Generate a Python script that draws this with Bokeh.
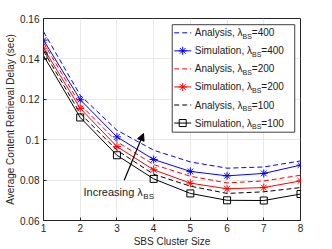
from bokeh.plotting import figure
from bokeh.models import Range1d, FixedTicker, Arrow, NormalHead
from bokeh.core.properties import value
from bokeh.embed import file_html
from bokeh.resources import INLINE

# ---------------- data ----------------
cluster_size = [1, 2, 3, 4, 5, 6, 7, 8]
analysis_400 = [0.1535, 0.1220, 0.1047, 0.0948, 0.0890, 0.0859, 0.0865, 0.0895]
sim_400 = [0.1493, 0.1198, 0.1014, 0.0902, 0.0843, 0.0821, 0.0833, 0.0874]
analysis_200 = [0.1480, 0.1174, 0.0990, 0.0877, 0.0819, 0.0786, 0.0796, 0.0824]
sim_200 = [0.1453, 0.1155, 0.0966, 0.0851, 0.0785, 0.0757, 0.0763, 0.0796]
analysis_100 = [0.1440, 0.1130, 0.0948, 0.0829, 0.0770, 0.0734, 0.0742, 0.0763]
sim_100 = [0.1416, 0.1110, 0.0923, 0.0806, 0.0734, 0.0700, 0.0699, 0.0731]

lambda_bs = [400, 200, 100]
series_colors = ["#0000ff", "#ff0000", "#000000"]
sim_markers = ["asterisk", "asterisk", "square"]
analysis_series = [analysis_400, analysis_200, analysis_100]
sim_series = [sim_400, sim_200, sim_100]

x_ticks = [1, 2, 3, 4, 5, 6, 7, 8]
y_ticks = [0.06, 0.08, 0.1, 0.12, 0.14, 0.16]
y_tick_labels = ["0.06", "0.08", "0.1", "0.12", "0.14", "0.16"]
x_label = "SBS Cluster Size"
y_label = "Average Content Retrieval Delay (sec)"
kind_names = ["Analysis", "Simulation"]
lam_sym = "λ"
lam_sub = "BS"
annot_main = "Increasing λ"

# ---------------- style / layout ----------------
FONT = "Liberation Sans"
TXT = "#262626"
W, H = 332, 249

# approximate advance widths (Arial / Liberation Sans, per 1000 em)
ADV = {' ': 278, ',': 278, '=': 584, 'A': 667, 'B': 667, 'I': 278, 'S': 667,
       'a': 556, 'c': 500, 'e': 556, 'g': 556, 'i': 222, 'l': 222, 'm': 833,
       'n': 556, 'o': 556, 'r': 333, 's': 500, 't': 278, 'u': 556, 'y': 500,
       'λ': 500}


def tw(s, size):
    return sum(ADV.get(c, 556) for c in s) / 1000.0 * size


# reference-pixel -> data mapping for annotation placement
def rx(px):
    return 1 + (px - 43.3) / 36.71


def ry(py):
    return 0.16 - (py - 18.3) / 2020.0


p = figure(width=W, height=H, x_range=Range1d(1, 8), y_range=Range1d(0.06, 0.16),
           output_backend="svg", toolbar_location=None,
           min_border_left=43, min_border_right=32, min_border_top=18, min_border_bottom=28)
p.background_fill_color = "white"
p.border_fill_color = "white"
p.outline_line_color = TXT
p.outline_line_width = 1

p.grid.grid_line_color = "#e8e8e8"
p.grid.grid_line_width = 1

p.xaxis.ticker = FixedTicker(ticks=x_ticks)
p.yaxis.ticker = FixedTicker(ticks=y_ticks)
p.yaxis.major_label_overrides = {t: l for t, l in zip(y_ticks, y_tick_labels)}
for ax in (p.xaxis, p.yaxis):
    ax.axis_line_color = TXT
    ax.major_tick_line_color = TXT
    ax.major_tick_in = 3
    ax.major_tick_out = 0
    ax.minor_tick_line_color = None
    ax.major_label_text_font = FONT
    ax.major_label_text_font_size = "10px"
    ax.major_label_text_color = TXT
    ax.axis_label_text_font = FONT
    ax.axis_label_text_font_size = "10px"
    ax.axis_label_text_font_style = "normal"
    ax.axis_label_text_color = TXT
p.xaxis.axis_label = x_label
p.yaxis.axis_label = y_label
p.xaxis.major_label_standoff = 3
p.xaxis.axis_label_standoff = 1
p.yaxis.major_label_standoff = 4
p.yaxis.axis_label_standoff = 1

# ---------------- series ----------------
for a, s, c, m in zip(analysis_series, sim_series, series_colors, sim_markers):
    p.line(cluster_size, a, line_color=c, line_width=1, line_dash="5 3")
    p.line(cluster_size, s, line_color=c, line_width=1)
    if m == "square":
        p.scatter(cluster_size, s, marker=m, size=7, line_color=c, fill_alpha=0, line_width=1)
    else:
        p.scatter(cluster_size, s, marker=m, size=8, line_color=c, line_width=1)

# ---------------- legend (manual, to allow subscripts) ----------------
LEG_L, LEG_R, LEG_T, LEG_B = 172.0, 294.5, 24.5, 132.0
ROW0, ROW_STEP = 32.6, 18.05
SX0, SX1, SXM = 174.0, 191.0, 182.5
TX = 194.5

p.quad(left=[rx(LEG_L)], right=[rx(LEG_R)], top=[ry(LEG_T)], bottom=[ry(LEG_B)],
       fill_color="white", line_color="#404040", line_width=1)

row = 0
for lam, c, m in zip(lambda_bs, series_colors, sim_markers):
    for k, kind in enumerate(kind_names):
        yy = ry(ROW0 + row * ROW_STEP)
        if k == 0:
            p.line([rx(SX0), rx(SX1)], [yy, yy], line_color=c, line_width=1, line_dash="5 3")
        else:
            p.line([rx(SX0), rx(SX1)], [yy, yy], line_color=c, line_width=1)
            if m == "square":
                p.scatter([rx(SXM)], [yy], marker=m, size=7, line_color=c, fill_alpha=0)
            else:
                p.scatter([rx(SXM)], [yy], marker=m, size=8, line_color=c)
        main = f"{kind}, {lam_sym}"
        w1 = tw(main, 10)
        w2 = tw(lam_sub, 7)
        p.text(x=[rx(TX)], y=[yy], text=[main], text_font=value(FONT),
               text_font_size=value("10px"), text_baseline="middle", text_align="left",
               text_color="#1a1a1a")
        p.text(x=[rx(TX)], y=[yy], text=[lam_sub], x_offset=w1, y_offset=3.5,
               text_font=value(FONT), text_font_size=value("7px"),
               text_baseline="middle", text_align="left", text_color="#1a1a1a")
        p.text(x=[rx(TX)], y=[yy], text=[f"={lam}"], x_offset=w1 + w2,
               text_font=value(FONT), text_font_size=value("10px"),
               text_baseline="middle", text_align="left", text_color="#1a1a1a")
        row += 1

# ---------------- annotation ----------------
AX, AY = 83.3, 191.7
wa = tw(annot_main, 11)
p.text(x=[rx(AX)], y=[ry(AY)], text=[annot_main], text_font=value(FONT),
       text_font_size=value("11px"), text_baseline="middle", text_align="left",
       text_color="#1a1a1a")
p.text(x=[rx(AX)], y=[ry(AY)], text=[lam_sub], x_offset=wa + 0.5, y_offset=5.0,
       text_font=value(FONT), text_font_size=value("8px"), text_baseline="middle",
       text_align="left", text_color="#1a1a1a")
p.add_layout(Arrow(end=NormalHead(size=7, fill_color="black", line_color="black"),
                   x_start=rx(124.0), y_start=ry(180.0), x_end=rx(143.3), y_end=ry(133.3),
                   line_color="black", line_width=1.2))

open("out.html", "w").write(file_html(p, INLINE))
